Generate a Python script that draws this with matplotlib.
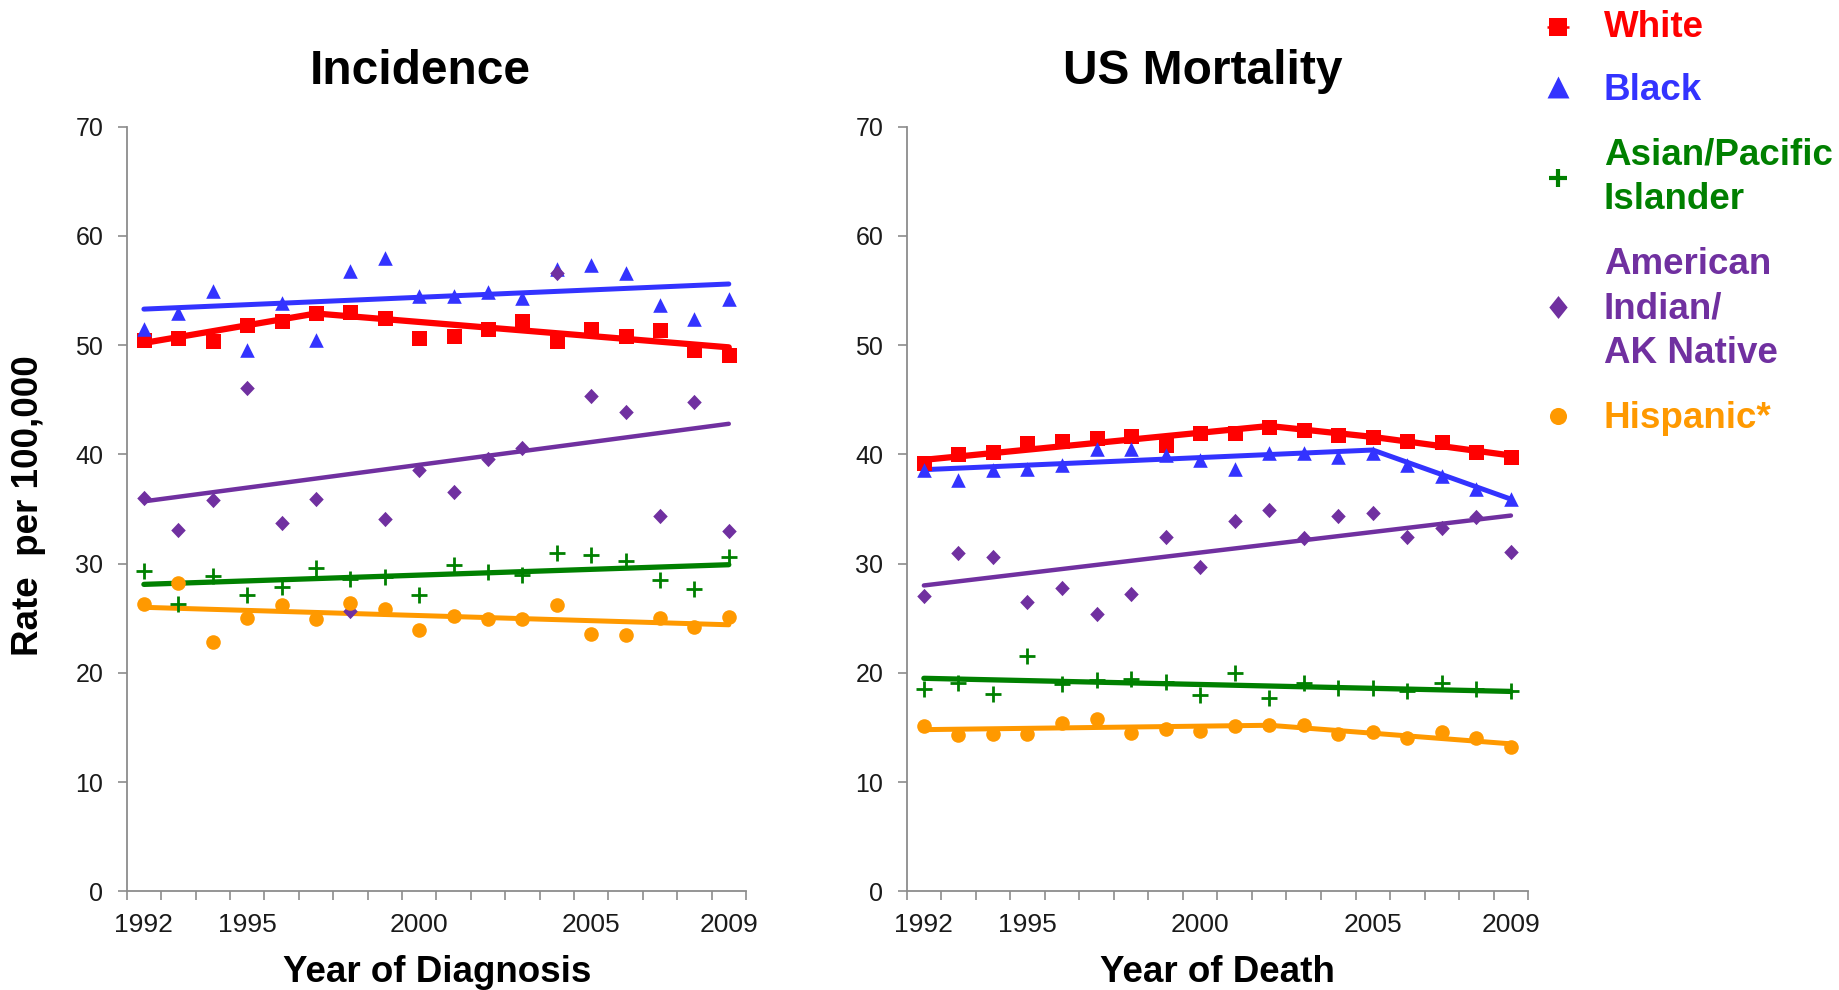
import matplotlib
matplotlib.use("Agg")
import matplotlib.pyplot as plt
from matplotlib import font_manager

years = list(range(1992, 2010))

# ---- Incidence (observed rates) ----
inc_white = [50.5, 50.7, 50.4, 51.8, 52.2, 52.9, 53.0, 52.5, 50.7, 50.8, 51.5, 52.2, 50.4, 51.5, 50.8, 51.4, 49.6, 49.1]
inc_black = [51.5, 52.9, 55.0, 49.6, 53.9, 50.5, 56.8, 58.0, 54.5, 54.5, 54.9, 54.3, 57.0, 57.3, 56.6, 53.7, 52.4, 54.2]
inc_api = [29.3, 26.3, 28.9, 27.1, 27.9, 29.6, 28.6, 28.8, 27.1, 29.9, 29.2, 29.0, 31.0, 30.8, 30.2, 28.5, 27.7, 30.6]
inc_aian = [36.0, 33.1, 35.8, 46.1, 33.7, 35.9, 25.7, 34.1, 38.6, 36.6, 39.6, 40.6, 56.6, 45.3, 43.9, 34.4, 44.8, 33.0]
inc_hisp = [26.3, 28.2, 22.8, 25.0, 26.2, 24.9, 26.4, 25.8, 23.9, 25.2, 24.9, 24.9, 26.2, 23.6, 23.5, 25.0, 24.2, 25.1]

# ---- Incidence (joinpoint trend knots) ----
inc_white_tr_x = [1992, 1997, 2009]
inc_white_tr_y = [50.2, 52.9, 49.8]
inc_black_tr_x = [1992, 2009]
inc_black_tr_y = [53.3, 55.6]
inc_api_tr_x = [1992, 2009]
inc_api_tr_y = [28.1, 29.9]
inc_aian_tr_x = [1992, 2009]
inc_aian_tr_y = [35.7, 42.8]
inc_hisp_tr_x = [1992, 2009]
inc_hisp_tr_y = [26.0, 24.4]

# ---- Mortality (observed rates) ----
mor_white = [39.2, 40.0, 40.2, 41.0, 41.2, 41.5, 41.7, 40.9, 42.0, 42.0, 42.5, 42.2, 41.8, 41.6, 41.2, 41.1, 40.2, 39.8]
mor_black = [38.6, 37.7, 38.6, 38.7, 39.0, 40.5, 40.5, 39.9, 39.5, 38.7, 40.1, 40.1, 39.8, 40.1, 39.0, 38.0, 36.8, 35.9]
mor_api = [18.5, 19.1, 18.1, 21.5, 19.0, 19.3, 19.4, 19.2, 18.0, 20.0, 17.7, 19.1, 18.6, 18.6, 18.3, 19.1, 18.5, 18.3]
mor_aian = [27.0, 31.0, 30.6, 26.5, 27.8, 25.4, 27.2, 32.4, 29.7, 33.9, 34.9, 32.3, 34.4, 34.6, 32.4, 33.3, 34.3, 31.1]
mor_hisp = [15.1, 14.3, 14.4, 14.4, 15.4, 15.8, 14.5, 14.9, 14.7, 15.1, 15.2, 15.2, 14.4, 14.6, 14.0, 14.6, 14.0, 13.2]

# ---- Mortality (joinpoint trend knots) ----
mor_white_tr_x = [1992, 2002, 2005, 2009]
mor_white_tr_y = [39.5, 42.6, 41.6, 39.9]
mor_black_tr_x = [1992, 2005, 2009]
mor_black_tr_y = [38.6, 40.4, 35.9]
mor_api_tr_x = [1992, 2009]
mor_api_tr_y = [19.5, 18.3]
mor_aian_tr_x = [1992, 2009]
mor_aian_tr_y = [28.0, 34.4]
mor_hisp_tr_x = [1992, 2002, 2009]
mor_hisp_tr_y = [14.8, 15.2, 13.5]

groups = ["White", "Black", "Asian/Pacific\nIslander", "American\nIndian/\nAK Native", "Hispanic*"]
xtick_years = [1992, 1995, 2000, 2005, 2009]
yticks = [0, 10, 20, 30, 40, 50, 60, 70]

colors = ["#FF0000", "#3333FF", "#008000", "#7030A0", "#FF9900"]
TRI = [(0, 1), (-1, -1), (1, -1), (0, 1)]
DIA = [(0, 1), (0.95, 0), (0, -1), (-0.95, 0), (0, 1)]
DIA_LEG = [(0, 1), (0.8, 0), (0, -1), (-0.8, 0), (0, 1)]
markers = ["s", TRI, "+", DIA, "o"]
msizes = [10.8, 10.5, 11, 11, 10.5]
mews = [0, 0, 2.0, 0, 0]
lws = [4.5, 3.6, 3.8, 3.2, 3.6]

leg_markers = ["s", TRI, "+", DIA_LEG, "o"]
leg_msizes = [12.6, 15.8, 13.5, 16.5, 12.3]
leg_mews = [0, 0, 3.0, 0, 0]

names = {f.name for f in font_manager.fontManager.ttflist}
BASE = "Liberation Sans" if "Liberation Sans" in names else "DejaVu Sans"
plt.rcParams["font.family"] = [BASE, "DejaVu Sans"]

fig = plt.figure(figsize=(18.39, 9.90), dpi=100)
W, H = 1839.0, 990.0

def fx(px):
    return px / W

def fy(py):
    return 1 - py / H

ax_l = fig.add_axes([fx(126.7), fy(891.3), (746 - 126.7) / W, (891.3 - 126.7) / H])
ax_r = fig.add_axes([fx(906.6), fy(891.3), (1528.2 - 906.6) / W, (891.3 - 126.7) / H])

inc_obs = [inc_white, inc_black, inc_api, inc_aian, inc_hisp]
inc_tr = [(inc_white_tr_x, inc_white_tr_y), (inc_black_tr_x, inc_black_tr_y),
          (inc_api_tr_x, inc_api_tr_y), (inc_aian_tr_x, inc_aian_tr_y),
          (inc_hisp_tr_x, inc_hisp_tr_y)]
mor_obs = [mor_white, mor_black, mor_api, mor_aian, mor_hisp]
mor_tr = [(mor_white_tr_x, mor_white_tr_y), (mor_black_tr_x, mor_black_tr_y),
          (mor_api_tr_x, mor_api_tr_y), (mor_aian_tr_x, mor_aian_tr_y),
          (mor_hisp_tr_x, mor_hisp_tr_y)]

spine_col = "#8C8C8C"
for ax, obs, trends in [(ax_l, inc_obs, inc_tr), (ax_r, mor_obs, mor_tr)]:
    for i in range(5):
        tx, ty = trends[i]
        ax.plot(tx, ty, color=colors[i], lw=lws[i], solid_capstyle="round", zorder=2)
        ax.plot(years, obs[i], linestyle="none", marker=markers[i], ms=msizes[i],
                color=colors[i], mec=colors[i], mew=mews[i], zorder=3)
    ax.set_xlim(1991.5, 2009.5)
    ax.set_ylim(0, 70)
    ax.set_yticks(yticks)
    ax.set_xticks(xtick_years)
    ax.set_xticks([y - 0.5 for y in years] + [2009.5], minor=True)
    ax.tick_params(axis="x", which="major", length=0, pad=15.5, labelsize=19, labelcolor="#1a1a1a")
    ax.tick_params(axis="x", which="minor", length=6.5, width=1.2, color=spine_col, direction="out")
    ax.tick_params(axis="y", which="major", length=6.3, width=1.2, color=spine_col, pad=10.5,
                   labelsize=18, labelcolor="#1a1a1a")
    for s in ["top", "right"]:
        ax.spines[s].set_visible(False)
    for s in ["left", "bottom"]:
        ax.spines[s].set_color(spine_col)
        ax.spines[s].set_linewidth(1.3)
    ax.set_facecolor("none")

# Titles and axis labels
fig.text(fx(420.5), fy(71), "Incidence", ha="center", va="center", fontsize=34.5, fontweight="bold")
fig.text(fx(1202.7), fy(71), "US Mortality", ha="center", va="center", fontsize=34.5, fontweight="bold")
fig.text(fx(437), fy(973), "Year of Diagnosis", ha="center", va="center", fontsize=26.5, fontweight="bold")
fig.text(fx(1217), fy(973), "Year of Death", ha="center", va="center", fontsize=26.5, fontweight="bold")
fig.text(fx(29), fy(505.5), "Rate  per 100,000", ha="center", va="center", rotation=90,
         fontsize=26.5, fontweight="bold")

# Legend
leg_ax = fig.add_axes([0, 0, 1, 1])
leg_ax.set_xlim(0, W)
leg_ax.set_ylim(H, 0)
leg_ax.axis("off")
marker_y = [26.7, 87, 178, 307, 416]
text_y = [27.5, 91, 177.5, 309, 418]
leg_ax.plot([1547, 1569], [marker_y[0], marker_y[0]], color=colors[0], lw=1.8, solid_capstyle="butt")
for i in range(5):
    leg_ax.plot([1558], [marker_y[i]], marker=leg_markers[i], ms=leg_msizes[i], color=colors[i],
                mec=colors[i], mew=leg_mews[i], linestyle="none")
    leg_ax.text(1604, text_y[i], groups[i], color=colors[i], fontsize=26.5, fontweight="bold",
                ha="left", va="center", linespacing=1.35)

fig.savefig("out.png", dpi=100)
